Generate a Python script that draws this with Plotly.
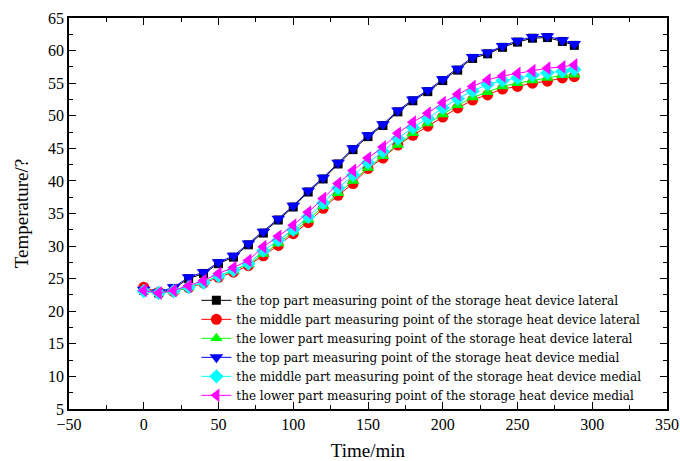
import plotly.graph_objects as go

# sampling times (min)
time_min = [0, 10, 20, 30, 40, 50, 60, 70, 80, 90, 100, 110, 120, 130, 140,
            150, 160, 170, 180, 190, 200, 210, 220, 230, 240, 250, 260, 270, 280, 288]

top_lateral = [23.2, 22.8, 23.5, 25.0, 25.8, 27.3, 28.3, 30.2, 32.0, 34.0, 36.0, 38.3, 40.3, 42.6, 44.8,
               46.8, 48.5, 50.6, 52.3, 53.7, 55.4, 57.0, 58.8, 59.5, 60.5, 61.3, 61.9, 62.0, 61.4, 60.8]
middle_lateral = [23.7, 22.9, 23.0, 23.6, 24.3, 25.2, 26.0, 27.0, 28.5, 30.1, 31.9, 33.6, 35.8, 37.8, 39.6,
                  41.9, 43.5, 45.5, 47.0, 48.4, 49.8, 51.2, 52.4, 53.2, 54.1, 54.5, 55.0, 55.3, 55.8, 56.0]
lower_lateral = [23.3, 22.9, 23.1, 23.7, 24.5, 25.4, 26.2, 27.2, 28.8, 30.4, 32.2, 34.0, 36.1, 38.1, 40.0,
                 42.0, 43.8, 45.5, 47.3, 48.8, 50.2, 51.6, 52.8, 53.6, 54.5, 55.0, 55.4, 55.8, 56.2, 56.3]
top_medial = [23.3, 22.9, 23.7, 25.2, 26.0, 27.5, 28.5, 30.4, 32.2, 34.2, 36.2, 38.5, 40.5, 42.8, 45.0,
              47.0, 48.7, 50.8, 52.5, 53.9, 55.6, 57.2, 59.0, 59.7, 60.7, 61.5, 62.1, 62.2, 61.6, 61.0]
middle_medial = [23.1, 22.8, 23.1, 23.7, 24.4, 25.4, 26.3, 27.3, 29.3, 30.9, 32.5, 34.5, 36.6, 38.9, 40.9,
                 42.8, 44.5, 46.5, 48.2, 49.6, 51.2, 52.6, 53.8, 54.8, 55.4, 55.8, 56.2, 56.6, 56.8, 57.1]
lower_medial = [23.2, 22.8, 23.2, 23.9, 24.7, 25.8, 26.7, 27.8, 29.9, 31.5, 33.2, 35.2, 37.3, 39.6, 41.6,
                43.5, 45.2, 47.3, 49.0, 50.4, 52.0, 53.3, 54.5, 55.5, 56.1, 56.5, 56.9, 57.3, 57.5, 57.8]

# name, values, colour, marker symbol, marker size
series = [
    ("the top part measuring point of the storage heat device lateral", top_lateral, "#000000", "square", 9),
    ("the middle part measuring point of the storage heat device lateral", middle_lateral, "#ff0000", "circle", 11),
    ("the lower part measuring point of the storage heat device lateral", lower_lateral, "#00ff00", "triangle-up", 11),
    ("the top part measuring point of the storage heat device medial", top_medial, "#0000ff", "triangle-down", 12),
    ("the middle part measuring point of the storage heat device medial", middle_medial, "#00ffff", "diamond", 11),
    ("the lower part measuring point of the storage heat device medial", lower_medial, "#ff00ff", "triangle-left", 12),
]

fig = go.Figure()
for name, vals, color, symbol, size in series:
    fig.add_trace(go.Scatter(
        x=time_min, y=vals, name=name, mode="lines+markers",
        line=dict(color=color, width=1),
        marker=dict(symbol=symbol, size=size, color=color, line=dict(width=0)),
    ))

axis_common = dict(
    showline=True, linecolor="black", linewidth=1.5, mirror="ticks",
    ticks="inside", ticklen=7, tickwidth=1.2, tickcolor="black",
    showgrid=False, zeroline=False, automargin=False,
    tickfont=dict(family="Liberation Serif", size=16, color="black"),
)

fig.update_layout(
    width=680, height=461,
    margin=dict(l=69, r=13, t=18, b=52),
    plot_bgcolor="white", paper_bgcolor="white",
    font=dict(family="Liberation Serif", color="black"),
    xaxis=dict(axis_common, range=[-50, 350], dtick=50, tick0=0,
               minor=dict(dtick=25, ticks="inside", ticklen=4, tickcolor="black"),
               title=dict(text="Time/min", font=dict(size=19), standoff=12)),
    yaxis=dict(axis_common, range=[5, 65], dtick=5, tick0=5,
               minor=dict(dtick=2.5, ticks="inside", ticklen=4, tickcolor="black"),
               title=dict(text="Temperature/?", font=dict(size=19), standoff=14)),
    legend=dict(x=0.213, y=0.315, xanchor="left", yanchor="top",
                bgcolor="rgba(0,0,0,0)",
                font=dict(family="DejaVu Serif", size=12),
                tracegroupgap=0),
)

# drop the default page margin so the 680x461 figure fills the window
fig.write_html("out.html", config={"displayModeBar": False},
               post_script="document.body.style.margin='0';")
